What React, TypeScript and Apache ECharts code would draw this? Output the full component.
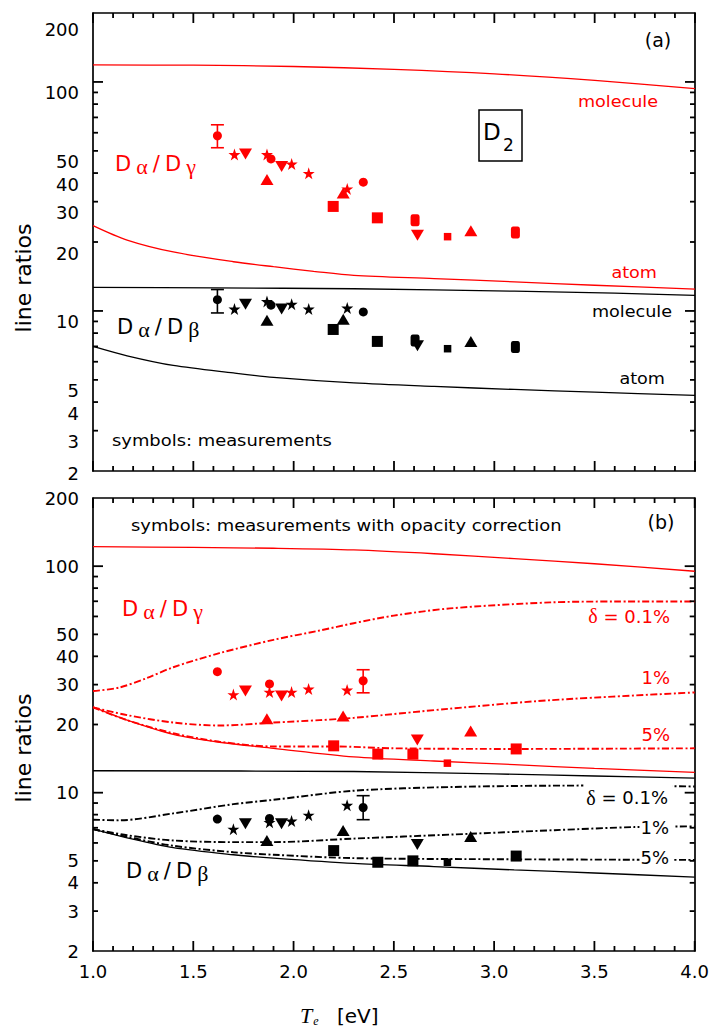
import React, { useEffect, useRef } from "react";
import * as echarts from "echarts";

type Pt = [number, number];
type Err = [number, number, number];

// ---------- axis ranges and tick values ----------
const X_RANGE: Pt = [1.0, 4.0];
const Y_RANGE: Pt = [2, 200];
const X_MAJOR_TICKS = [1.0, 1.5, 2.0, 2.5, 3.0, 3.5, 4.0];
const X_MINOR_TICKS = [
  1.1, 1.2, 1.3, 1.4, 1.6, 1.7, 1.8, 1.9, 2.1, 2.2, 2.3, 2.4,
  2.6, 2.7, 2.8, 2.9, 3.1, 3.2, 3.3, 3.4, 3.6, 3.7, 3.8, 3.9,
];
const Y_MAJOR_TICKS = [10, 100];
const Y_MINOR_TICKS = [3, 4, 5, 6, 7, 8, 9, 20, 30, 40, 50, 60, 70, 80, 90];
const Y_TICK_LABELS = [2, 3, 4, 5, 10, 20, 30, 40, 50, 100, 200];

// ---------- panel (a): model curves ----------
const aGammaMolecule: Pt[] = [[1.0, 118.6], [1.5, 118.3], [2.0, 116.8], [2.5, 113.5], [3.0, 108.5], [3.5, 101.5], [4.0, 93.5]];
const aGammaAtom: Pt[] = [[1.0, 23.6], [1.17, 20.4], [1.4, 18.1], [1.7, 16.4], [1.9, 15.6], [2.1, 14.9], [2.3, 14.3], [2.7, 13.85], [3.1, 13.4], [3.5, 12.95], [4.0, 12.46]];
const aBetaMolecule: Pt[] = [[1.0, 12.67], [1.6, 12.6], [2.3, 12.5], [3.1, 12.2], [3.6, 11.95], [4.0, 11.7]];
const aBetaAtom: Pt[] = [[1.0, 7.0], [1.17, 6.37], [1.4, 5.78], [1.7, 5.36], [1.9, 5.13], [2.3, 4.85], [2.7, 4.68], [3.1, 4.54], [3.5, 4.42], [4.0, 4.28]];

// ---------- panel (a): measurements ----------
const aGammaCircle: Pt[] = [[1.62, 58.2], [1.887, 46.1], [2.347, 36.5]];
const aGammaStar: Pt[] = [[1.705, 48.2], [1.867, 48.2], [1.99, 43.8], [2.075, 39.9], [2.267, 34.1]];
const aGammaDown: Pt[] = [[1.76, 48.5], [1.94, 42.7], [2.617, 21.4]];
const aGammaUp: Pt[] = [[1.867, 37.5], [2.247, 32.7], [2.883, 22.4]];
const aGammaSquare: Pt[] = [[2.197, 28.6], [2.417, 25.5]];
const aGammaRect: Pt[] = [[2.605, 24.9], [3.105, 22.0]];
const aGammaDot: Pt[] = [[2.767, 21.1]];
const aGammaError: Err[] = [[1.62, 51.6, 65.0]];

const aBetaCircle: Pt[] = [[1.62, 11.2], [1.887, 10.6], [2.347, 9.9]];
const aBetaStar: Pt[] = [[1.705, 10.2], [1.867, 11.0], [1.99, 10.7], [2.075, 10.2], [2.267, 10.3]];
const aBetaDown: Pt[] = [[1.76, 10.7], [1.94, 10.2], [2.617, 7.04]];
const aBetaUp: Pt[] = [[1.867, 9.1], [2.247, 9.2], [2.883, 7.36]];
const aBetaSquare: Pt[] = [[2.197, 8.3], [2.417, 7.36]];
const aBetaRect: Pt[] = [[2.605, 7.43], [3.105, 6.95]];
const aBetaDot: Pt[] = [[2.767, 6.84]];
const aBetaError: Err[] = [[1.62, 9.8, 12.4]];

// ---------- panel (b): model curves ----------
const bGammaMolecule: Pt[] = [[1.0, 122], [1.5, 121], [1.9, 120], [2.3, 118], [2.7, 113.5], [3.1, 108], [3.5, 102.5], [4.0, 95]];
const bGammaAtom: Pt[] = [[1.0, 23.9], [1.17, 20.9], [1.4, 18.1], [1.63, 16.7], [1.9, 15.7], [2.3, 14.4], [2.7, 13.8], [3.1, 13.3], [3.5, 12.8], [4.0, 12.3]];
const bGammaOpacity01: Pt[] = [[1.0, 28.1], [1.13, 29.1], [1.27, 32.1], [1.4, 35.8], [1.63, 41.3], [1.9, 47.3], [2.13, 52.0], [2.3, 56.0], [2.5, 60.5], [2.78, 65.1], [3.28, 69.2], [3.6, 69.8], [4.0, 69.8]];
const bGammaOpacity1: Pt[] = [[1.0, 23.8], [1.17, 22.0], [1.4, 20.4], [1.63, 19.8], [1.9, 20.4], [2.13, 20.9], [2.3, 21.4], [2.78, 23.5], [3.28, 25.6], [4.0, 27.7]];
const bGammaOpacity5: Pt[] = [[1.0, 23.8], [1.17, 20.9], [1.4, 18.3], [1.63, 16.8], [1.9, 16.0], [2.2, 16.0], [2.5, 15.7], [3.1, 15.6], [4.0, 15.7]];
const bBetaMolecule: Pt[] = [[1.0, 12.5], [2.3, 12.4], [3.0, 12.1], [3.5, 11.85], [4.0, 11.6]];
const bBetaAtom: Pt[] = [[1.0, 6.9], [1.17, 6.32], [1.4, 5.72], [1.7, 5.32], [1.9, 5.14], [2.3, 4.87], [2.7, 4.72], [3.1, 4.56], [3.5, 4.42], [4.0, 4.24]];
const bBetaOpacity01: Pt[] = [[1.0, 7.6], [1.13, 7.55], [1.4, 8.1], [1.7, 8.9], [1.9, 9.3], [2.3, 10.2], [2.8, 10.6], [3.45, 10.75], [4.0, 10.65]];
const bBetaOpacity1: Pt[] = [[1.0, 6.9], [1.17, 6.49], [1.4, 6.15], [1.7, 6.05], [1.9, 6.05], [2.3, 6.27], [2.8, 6.54], [3.3, 6.83], [3.7, 7.05], [4.0, 7.1]];
const bBetaOpacity5: Pt[] = [[1.0, 6.9], [1.17, 6.38], [1.4, 5.83], [1.7, 5.46], [1.9, 5.32], [2.3, 5.14], [3.1, 5.08], [4.0, 5.05]];

// ---------- panel (b): opacity-corrected measurements ----------
const bGammaCircle: Pt[] = [[1.62, 34.2], [1.88, 30.2], [2.347, 31.2]];
const bGammaStar: Pt[] = [[1.70, 27.1], [1.88, 27.8], [1.99, 27.8], [2.075, 28.7], [2.267, 28.4]];
const bGammaDown: Pt[] = [[1.76, 28.1], [1.94, 26.7], [2.617, 17.1]];
const bGammaUp: Pt[] = [[1.867, 21.2], [2.247, 21.8], [2.883, 18.7]];
const bGammaSquare: Pt[] = [[2.2, 16.1], [2.42, 14.8], [2.595, 14.8], [3.11, 15.6]];
const bGammaDot: Pt[] = [[2.767, 13.5]];
const bGammaError: Err[] = [[2.347, 27.6, 34.9]];

const bBetaCircle: Pt[] = [[1.62, 7.65], [1.88, 7.7], [2.347, 8.6]];
const bBetaStar: Pt[] = [[1.70, 6.9], [1.88, 7.4], [1.99, 7.5], [2.075, 7.96], [2.267, 8.8]];
const bBetaDown: Pt[] = [[1.76, 7.3], [1.94, 7.3], [2.617, 5.9]];
const bBetaUp: Pt[] = [[1.867, 6.15], [2.247, 6.8], [2.883, 6.4]];
const bBetaSquare: Pt[] = [[2.2, 5.55], [2.42, 4.93], [2.595, 5.0], [3.11, 5.25]];
const bBetaDot: Pt[] = [[2.767, 4.93]];
const bBetaError: Err[] = [[2.347, 7.6, 9.7]];

const RED = "#ff0000";
const BLACK = "#000000";
const SANS = "DejaVu Sans";
const SERIF = "Liberation Serif";

const STAR =
  "path://M50,0 L61.8,35.1 L98.9,35.1 L69,56.9 L80.3,91.9 L50,70.2 L19.7,91.9 L31,56.9 L1.1,35.1 L38.2,35.1 Z";

const DASH_DOT = [7, 2.5, 2, 2.5];
const FRAME_WIDTH = 1.7;
const TICK_WIDTH = 1.8;

function seg(x1: number, y1: number, x2: number, y2: number, color: string, width: number) {
  return { type: "line", shape: { x1, y1, x2, y2 }, style: { stroke: color, lineWidth: width } };
}

function curve(data: Pt[], xi: number, yi: number, color: string, dashed: boolean) {
  return {
    type: "line",
    xAxisIndex: xi,
    yAxisIndex: yi,
    data,
    symbol: "none",
    smooth: 0.3,
    silent: true,
    z: 2,
    lineStyle: { color, width: dashed ? 1.9 : 1.3, type: dashed ? DASH_DOT : "solid" },
  };
}

function marks(data: Pt[], xi: number, yi: number, color: string, symbol: string, size: number | number[], rotate = 0) {
  return {
    type: "scatter",
    xAxisIndex: xi,
    yAxisIndex: yi,
    data,
    symbol,
    symbolSize: size,
    symbolRotate: rotate,
    silent: true,
    z: 5,
    itemStyle: { color, opacity: 1 },
  };
}

function errorBars(data: Err[], xi: number, yi: number, color: string) {
  return {
    type: "custom",
    xAxisIndex: xi,
    yAxisIndex: yi,
    data,
    silent: true,
    z: 4,
    encode: { x: 0, y: [1, 2] },
    renderItem: (_params: any, api: any) => {
      const x = api.value(0);
      const lo = api.coord([x, api.value(1)]);
      const hi = api.coord([x, api.value(2)]);
      const hw = 6.5;
      return {
        type: "group",
        children: [
          seg(lo[0], lo[1], hi[0], hi[1], color, 1.6),
          seg(lo[0] - hw, lo[1], lo[0] + hw, lo[1], color, 1.6),
          seg(hi[0] - hw, hi[1], hi[0] + hw, hi[1], color, 1.6),
        ],
      };
    },
  };
}

// Inward frame ticks: thin bar symbols anchored on the frame edge and shifted
// half their length into the plot.
function tickMarks(data: Pt[], size: number[], offset: number[], xi: number, yi: number) {
  return {
    type: "scatter",
    xAxisIndex: xi,
    yAxisIndex: yi,
    data,
    symbol: "rect",
    symbolSize: size,
    symbolOffset: offset,
    clip: false,
    silent: true,
    z: 6,
    itemStyle: { color: BLACK, opacity: 1 },
  };
}

function frameTicks(xi: number, yi: number) {
  const list: any[] = [];
  const xSide = (ticks: number[], len: number) => {
    list.push(tickMarks(ticks.map((v) => [v, Y_RANGE[0]] as Pt), [TICK_WIDTH, len], [0, -len / 2], xi, yi));
    list.push(tickMarks(ticks.map((v) => [v, Y_RANGE[1]] as Pt), [TICK_WIDTH, len], [0, len / 2], xi, yi));
  };
  const ySide = (ticks: number[], len: number) => {
    list.push(tickMarks(ticks.map((v) => [X_RANGE[0], v] as Pt), [len, TICK_WIDTH], [len / 2, 0], xi, yi));
    list.push(tickMarks(ticks.map((v) => [X_RANGE[1], v] as Pt), [len, TICK_WIDTH], [-len / 2, 0], xi, yi));
  };
  xSide(X_MAJOR_TICKS, 10);
  xSide(X_MINOR_TICKS, 5);
  ySide(Y_MAJOR_TICKS, 10);
  ySide(Y_MINOR_TICKS, 5);
  return list;
}

function measurementSet(
  xi: number,
  yi: number,
  color: string,
  s: { circle: Pt[]; star: Pt[]; down: Pt[]; up: Pt[]; square: Pt[]; rect?: Pt[]; dot: Pt[]; err: Err[] }
) {
  const list: any[] = [
    errorBars(s.err, xi, yi, color),
    marks(s.circle, xi, yi, color, "circle", 9),
    marks(s.star, xi, yi, color, STAR, 12),
    marks(s.down, xi, yi, color, "triangle", [13, 11], 180),
    marks(s.up, xi, yi, color, "triangle", [13, 11]),
    marks(s.square, xi, yi, color, "rect", 11),
    marks(s.dot, xi, yi, color, "rect", 7.5),
  ];
  if (s.rect) list.push(marks(s.rect, xi, yi, color, "roundRect", [9, 12]));
  return list;
}

function xAxisCfg(gridIndex: number, position: string, showLabels: boolean) {
  return {
    type: "value",
    gridIndex,
    position,
    min: X_RANGE[0],
    max: X_RANGE[1],
    interval: 0.5,
    axisLine: { show: true, onZero: false, lineStyle: { color: BLACK, width: FRAME_WIDTH } },
    axisTick: { show: false },
    minorTick: { show: false },
    splitLine: { show: false },
    minorSplitLine: { show: false },
    axisLabel: {
      show: showLabels,
      margin: 11,
      color: BLACK,
      fontSize: 18,
      fontFamily: SANS,
      formatter: (v: number) => v.toFixed(1),
    },
  };
}

function yAxisCfg(gridIndex: number, position: string, labels: any = null) {
  return {
    type: "log",
    logBase: 10,
    gridIndex,
    position,
    min: Y_RANGE[0],
    max: Y_RANGE[1],
    axisLine: { show: true, onZero: false, lineStyle: { color: BLACK, width: FRAME_WIDTH } },
    axisTick: { show: false },
    minorTick: { show: false },
    splitLine: { show: false },
    minorSplitLine: { show: false },
    axisLabel: labels ? labels : { show: false },
  };
}

const LABEL_FONT = { fontSize: 18, fontFamily: SANS, color: BLACK };

// the upper panel's numbers sit a little below their ticks
function yLabels(shifted: boolean) {
  return {
    show: true,
    customValues: Y_TICK_LABELS,
    margin: 14,
    ...LABEL_FONT,
    formatter: (v: number) => {
      const n = Math.round(v);
      if (!shifted) return `{n|${n}}`;
      if (n === 2) return `{b|${n}}`;
      if (n === 200) return `{t|${n}}`;
      return `{s|${n}}`;
    },
    rich: {
      n: { ...LABEL_FONT },
      s: { ...LABEL_FONT, padding: [22, 0, 0, 0] },
      t: { ...LABEL_FONT, padding: [32, 0, 0, 0] },
      b: { ...LABEL_FONT, padding: [4, 0, 0, 0] },
    },
  };
}

function txt(x: number, y: number, text: string, o: any = {}) {
  return {
    type: "text",
    x,
    y,
    scaleX: o.scaleX ?? 1,
    rotation: o.rotation ?? 0,
    z: 20,
    style: {
      text,
      fill: o.color ?? BLACK,
      fontSize: o.size ?? 16,
      fontFamily: o.family ?? SANS,
      fontStyle: o.style ?? "normal",
      align: o.align ?? "left",
      verticalAlign: o.valign ?? "middle",
      backgroundColor: o.bg,
      padding: o.padding,
      rich: o.rich,
    },
  };
}

function ratioText(x: number, y: number, greek: string, color: string) {
  return txt(x, y, `{d|D} {g|α} {d|/} {d|D} {g|${greek}}`, {
    color,
    rich: {
      d: { fontSize: 21, fontFamily: SANS, fill: color },
      g: { fontSize: 22, fontFamily: SERIF, fill: color, padding: [4, 0, 0, 0] },
    },
  });
}

function buildGraphic() {
  return [
    // panel (a)
    txt(658, 40, "(a)", { size: 19, align: "center" }),
    txt(658, 101, "molecule", { color: RED, align: "right", scaleX: 1.1 }),
    txt(657, 272, "atom", { color: RED, align: "right", scaleX: 1.1 }),
    txt(672, 311, "molecule", { align: "right", scaleX: 1.1 }),
    txt(665, 378, "atom", { align: "right", scaleX: 1.1 }),
    ratioText(115, 164, "γ", RED),
    ratioText(117, 327, "β", BLACK),
    txt(112, 440, "symbols: measurements", { scaleX: 1.12 }),
    {
      type: "rect",
      shape: { x: 479, y: 110, width: 43, height: 51 },
      style: { fill: "none", stroke: BLACK, lineWidth: 1.5 },
      z: 20,
    },
    txt(483, 132, "D", { size: 23 }),
    txt(503, 145, "2", { size: 17 }),
    // panel (b)
    txt(131, 525, "symbols: measurements with opacity correction", { scaleX: 1.12 }),
    txt(661, 522, "(b)", { size: 19, align: "center" }),
    ratioText(122, 609, "γ", RED),
    ratioText(126, 871, "β", BLACK),
    txt(670, 616, "{g|δ} = 0.1%", {
      color: RED,
      size: 18,
      align: "right",
      rich: { g: { fontFamily: SERIF, fontSize: 20, fill: RED } },
    }),
    txt(670, 677, "1%", { color: RED, size: 18, align: "right" }),
    txt(670, 734, "5%", { color: RED, size: 18, align: "right" }),
    txt(672, 796, "{g|δ} = 0.1%", {
      size: 18,
      align: "right",
      bg: "#ffffff",
      padding: [5, 4, 2, 3],
      rich: { g: { fontFamily: SERIF, fontSize: 20, fill: BLACK } },
    }),
    txt(674, 827, "1%", { size: 18, align: "right", bg: "#ffffff", padding: [2, 5, 2, 1] }),
    txt(674, 857, "5%", { size: 18, align: "right", bg: "#ffffff", padding: [2, 5, 2, 1] }),
    // axis titles
    txt(23, 278, "line ratios", { size: 22, align: "center", rotation: Math.PI / 2 }),
    txt(23, 748, "line ratios", { size: 22, align: "center", rotation: Math.PI / 2 }),
    txt(300, 1015, "{t|T}{e|e}", {
      rich: {
        t: { fontFamily: SERIF, fontStyle: "italic", fontSize: 22, fill: BLACK },
        e: { fontFamily: SERIF, fontStyle: "italic", fontSize: 12, fill: BLACK, padding: [12, 0, 0, 1] },
      },
    }),
    txt(337, 1016, "[eV]", { size: 20 }),
  ];
}

function buildOption() {
  const series: any[] = [
    // panel (a) curves
    curve(aGammaMolecule, 0, 0, RED, false),
    curve(aGammaAtom, 0, 0, RED, false),
    curve(aBetaMolecule, 0, 0, BLACK, false),
    curve(aBetaAtom, 0, 0, BLACK, false),
    // panel (b) curves
    curve(bGammaMolecule, 2, 2, RED, false),
    curve(bGammaAtom, 2, 2, RED, false),
    curve(bGammaOpacity01, 2, 2, RED, true),
    curve(bGammaOpacity1, 2, 2, RED, true),
    curve(bGammaOpacity5, 2, 2, RED, true),
    curve(bBetaMolecule, 2, 2, BLACK, false),
    curve(bBetaAtom, 2, 2, BLACK, false),
    curve(bBetaOpacity01, 2, 2, BLACK, true),
    curve(bBetaOpacity1, 2, 2, BLACK, true),
    curve(bBetaOpacity5, 2, 2, BLACK, true),
    ...measurementSet(0, 0, RED, {
      circle: aGammaCircle, star: aGammaStar, down: aGammaDown, up: aGammaUp,
      square: aGammaSquare, rect: aGammaRect, dot: aGammaDot, err: aGammaError,
    }),
    ...measurementSet(0, 0, BLACK, {
      circle: aBetaCircle, star: aBetaStar, down: aBetaDown, up: aBetaUp,
      square: aBetaSquare, rect: aBetaRect, dot: aBetaDot, err: aBetaError,
    }),
    ...measurementSet(2, 2, RED, {
      circle: bGammaCircle, star: bGammaStar, down: bGammaDown, up: bGammaUp,
      square: bGammaSquare, dot: bGammaDot, err: bGammaError,
    }),
    ...measurementSet(2, 2, BLACK, {
      circle: bBetaCircle, star: bBetaStar, down: bBetaDown, up: bBetaUp,
      square: bBetaSquare, dot: bBetaDot, err: bBetaError,
    }),
    ...frameTicks(0, 0),
    ...frameTicks(2, 2),
  ];

  return {
    animation: false,
    backgroundColor: "#ffffff",
    grid: [
      { left: 93, top: 13, width: 602, height: 458, show: false },
      { left: 93, top: 498, width: 602, height: 453, show: false },
    ],
    xAxis: [
      xAxisCfg(0, "bottom", false),
      xAxisCfg(0, "top", false),
      xAxisCfg(1, "bottom", true),
      xAxisCfg(1, "top", false),
    ],
    yAxis: [
      yAxisCfg(0, "left", yLabels(true)),
      yAxisCfg(0, "right"),
      yAxisCfg(1, "left", yLabels(false)),
      yAxisCfg(1, "right"),
    ],
    series,
    graphic: buildGraphic(),
  };
}

export default function App() {
  const ref = useRef<HTMLDivElement>(null);

  useEffect(() => {
    document.body.style.margin = "0";
    if (!ref.current) return;
    const chart = echarts.init(ref.current, null, { renderer: "svg" });
    chart.setOption(buildOption() as any);
    return () => chart.dispose();
  }, []);

  return <div ref={ref} style={{ width: 712, height: 1028, overflow: "hidden" }} />;
}
